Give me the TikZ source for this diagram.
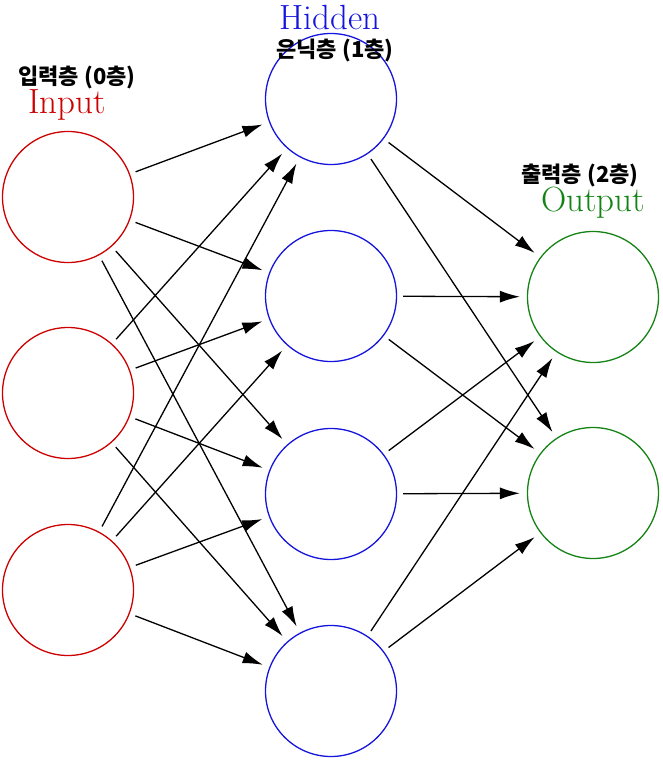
\documentclass[tikz,border=0pt]{standalone}
\usepackage{fontspec}
\usepackage{xcolor}
\usepackage{tikz}
\usetikzlibrary{arrows.meta,positioning}
\newfontfamily\kor{Noto Sans CJK KR}
\definecolor{inC}{RGB}{204,0,0}
\definecolor{hidC}{RGB}{20,20,220}
\definecolor{outC}{RGB}{20,130,20}
\tikzset{
  neuron/.style={circle, draw=#1, line width=1.3pt, minimum size=131pt, inner sep=0pt},
  layer/.style={text=#1, inner sep=0pt, font=\fontsize{35}{38}\selectfont},
  kotitle/.style={inner sep=0pt, font=\kor\bfseries\fontsize{22}{25}\selectfont},
  arr/.style={-{Latex[length=20pt,width=12pt]}, line width=1.3pt, draw=black,
              shorten <=6pt, shorten >=7pt},
}

\begin{document}
\begin{tikzpicture}[x=1pt,y=-1pt]
        \useasboundingbox (0,0) rectangle (662,760);
        % neurons
        \node[neuron=inC] (i1) at (68,197) {};
        \node[neuron=inC] (i2) at (68,393) {};
        \node[neuron=inC] (i3) at (68,590) {};
        \node[neuron=hidC] (h1) at (331,99) {};
        \node[neuron=hidC] (h2) at (331,296) {};
        \node[neuron=hidC] (h3) at (331,494) {};
        \node[neuron=hidC] (h4) at (331,691) {};
        \node[neuron=outC] (o1) at (593,297) {};
        \node[neuron=outC] (o2) at (593,493) {};
        % titles
        \node[kotitle] (ti) at (77,77) {입력층 (0층)};
        \node[layer=inC] (li) at (67,105) {Input};
        \node[layer=hidC] (lh) at (330,17) {Hidden};
        \node[kotitle] (th) at (335,51) {은닉층 (1층)};
        \node[kotitle] (to) at (580,175) {출력층 (2층)};
        \node[layer=outC] (lo) at (593,203) {Output};
        % input -> hidden
        \draw[arr] (i1) -- (h1); \draw[arr] (i1) -- (h2); \draw[arr] (i1) -- (h3); \draw[arr] (i1) -- (h4);
        \draw[arr] (i2) -- (h1); \draw[arr] (i2) -- (h2); \draw[arr] (i2) -- (h3); \draw[arr] (i2) -- (h4);
        \draw[arr] (i3) -- (h1); \draw[arr] (i3) -- (h2); \draw[arr] (i3) -- (h3); \draw[arr] (i3) -- (h4);
        % hidden -> output
        \draw[arr] (h1) -- (o1); \draw[arr] (h1) -- (o2);
        \draw[arr] (h2) -- (o1); \draw[arr] (h2) -- (o2);
        \draw[arr] (h3) -- (o1); \draw[arr] (h3) -- (o2);
        \draw[arr] (h4) -- (o1); \draw[arr] (h4) -- (o2);
      \end{tikzpicture}
\end{document}
